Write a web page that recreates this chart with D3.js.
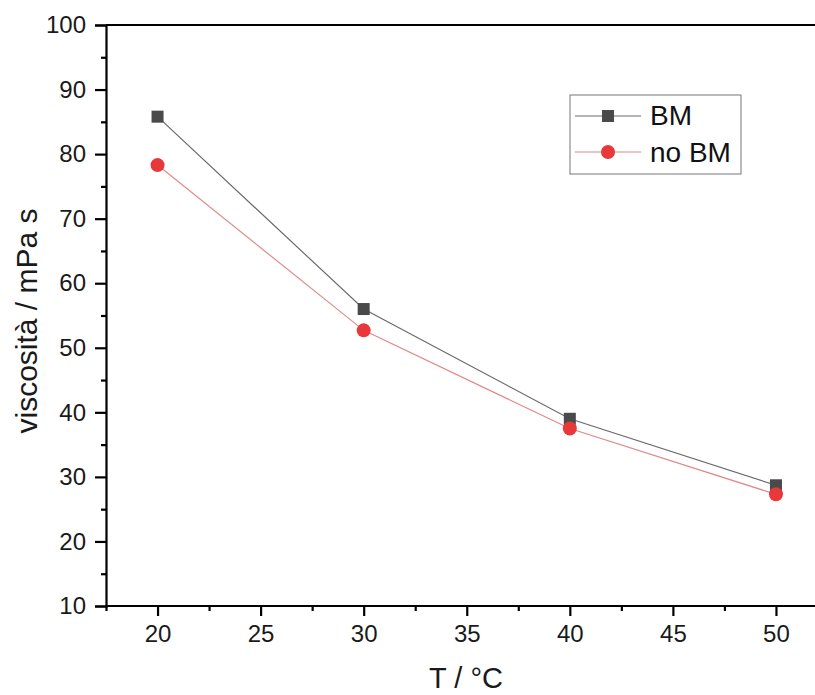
<!DOCTYPE html>
<html><head><meta charset="utf-8">
<script src="https://cdn.jsdelivr.net/npm/d3@7"></script>
<style>body{margin:0;background:#fff}svg{display:block}text{font-family:"Liberation Sans",Arial,sans-serif}</style>
</head><body>
<svg id="c" width="815" height="695"></svg>
<script>
const temps = [20, 30, 40, 50];
const bm = [85.8, 56.0, 39.0, 28.7];
const noBm = [78.3, 52.7, 37.5, 27.3];
const xTicks = [20, 25, 30, 35, 40, 45, 50];
const yTicks = [10, 20, 30, 40, 50, 60, 70, 80, 90, 100];
const seriesNames = ["BM", "no BM"];

const svg = d3.select("#c");
const x = d3.scaleLinear().domain([17.5, 52.5]).range([106, 827.5]);
const y = d3.scaleLinear().domain([10, 100]).range([606, 25]);

svg.append("line").attr("x1",106).attr("x2",815).attr("y1",y(100)).attr("y2",y(100)).attr("stroke","#000").attr("stroke-width",2.2);

const xAx = svg.append("g").attr("transform",`translate(0,${y(10)})`)
  .call(d3.axisBottom(x).tickValues(xTicks).tickSize(10).tickPadding(9).tickFormat(d3.format("d")));
const xMinor = svg.append("g").attr("transform",`translate(0,${y(10)})`)
  .call(d3.axisBottom(x).tickValues(xTicks.map(d=>d-2.5)).tickSize(5).tickFormat(""));
const yAx = svg.append("g").attr("transform",`translate(${x(17.5)},0)`)
  .call(d3.axisLeft(y).tickValues(yTicks).tickSize(11).tickPadding(9).tickFormat(d3.format("d")));
const yMinor = svg.append("g").attr("transform",`translate(${x(17.5)},0)`)
  .call(d3.axisLeft(y).tickValues(yTicks.slice(1).map(d=>d-5)).tickSize(5).tickFormat(""));
[xAx,xMinor,yAx,yMinor].forEach(g=>{
  g.select(".domain").attr("stroke","#000").attr("stroke-width",2.2);
  g.selectAll(".tick line").attr("stroke","#000").attr("stroke-width",2.2);
  g.selectAll(".tick text").attr("font-size",24).attr("fill","#1a1a1a").attr("font-family","Liberation Sans, Arial, sans-serif");
});
xAx.select(".domain").attr("d",`M106,0H815`);
xMinor.select(".domain").remove();
yMinor.select(".domain").remove();

svg.append("text").attr("x",466).attr("y",688).attr("text-anchor","middle").attr("font-size",29).attr("fill","#1a1a1a").text("T / °C");
svg.append("text").attr("transform",`translate(37,321) rotate(-90)`).attr("text-anchor","middle").attr("font-size",30).attr("fill","#1a1a1a").text("viscosità / mPa s");

const line = d3.line().x((d,i)=>x(temps[i])).y(d=>y(d));
svg.append("path").datum(bm).attr("d",line).attr("fill","none").attr("stroke","#6b6b6b").attr("stroke-width",1.2);
svg.append("path").datum(noBm).attr("d",line).attr("fill","none").attr("stroke","#e08a8a").attr("stroke-width",1.2);

svg.selectAll(".sq").data(bm).enter().append("rect")
  .attr("x",(d,i)=>x(temps[i])-6).attr("y",d=>y(d)-6).attr("width",12).attr("height",12).attr("fill","#4a4a4a");
svg.selectAll(".ci").data(noBm).enter().append("circle")
  .attr("cx",(d,i)=>x(temps[i])).attr("cy",d=>y(d)).attr("r",7).attr("fill","#e8383a");

const lg = svg.append("g");
lg.append("rect").attr("x",570).attr("y",95).attr("width",171).attr("height",79).attr("fill","#fff").attr("stroke","#777").attr("stroke-width",1);
lg.append("line").attr("x1",575).attr("x2",641).attr("y1",116).attr("y2",116).attr("stroke","#6b6b6b").attr("stroke-width",1.2);
lg.append("rect").attr("x",602).attr("y",110).attr("width",12).attr("height",12).attr("fill","#4a4a4a");
lg.append("text").attr("x",650).attr("y",125).attr("font-size",28).attr("fill","#111").text(seriesNames[0]);
lg.append("line").attr("x1",575).attr("x2",641).attr("y1",152).attr("y2",152).attr("stroke","#e08a8a").attr("stroke-width",1.2);
lg.append("circle").attr("cx",608).attr("cy",152).attr("r",7).attr("fill","#e8383a");
lg.append("text").attr("x",650).attr("y",162).attr("font-size",28).attr("fill","#111").text(seriesNames[1]);
</script>
</body></html>
